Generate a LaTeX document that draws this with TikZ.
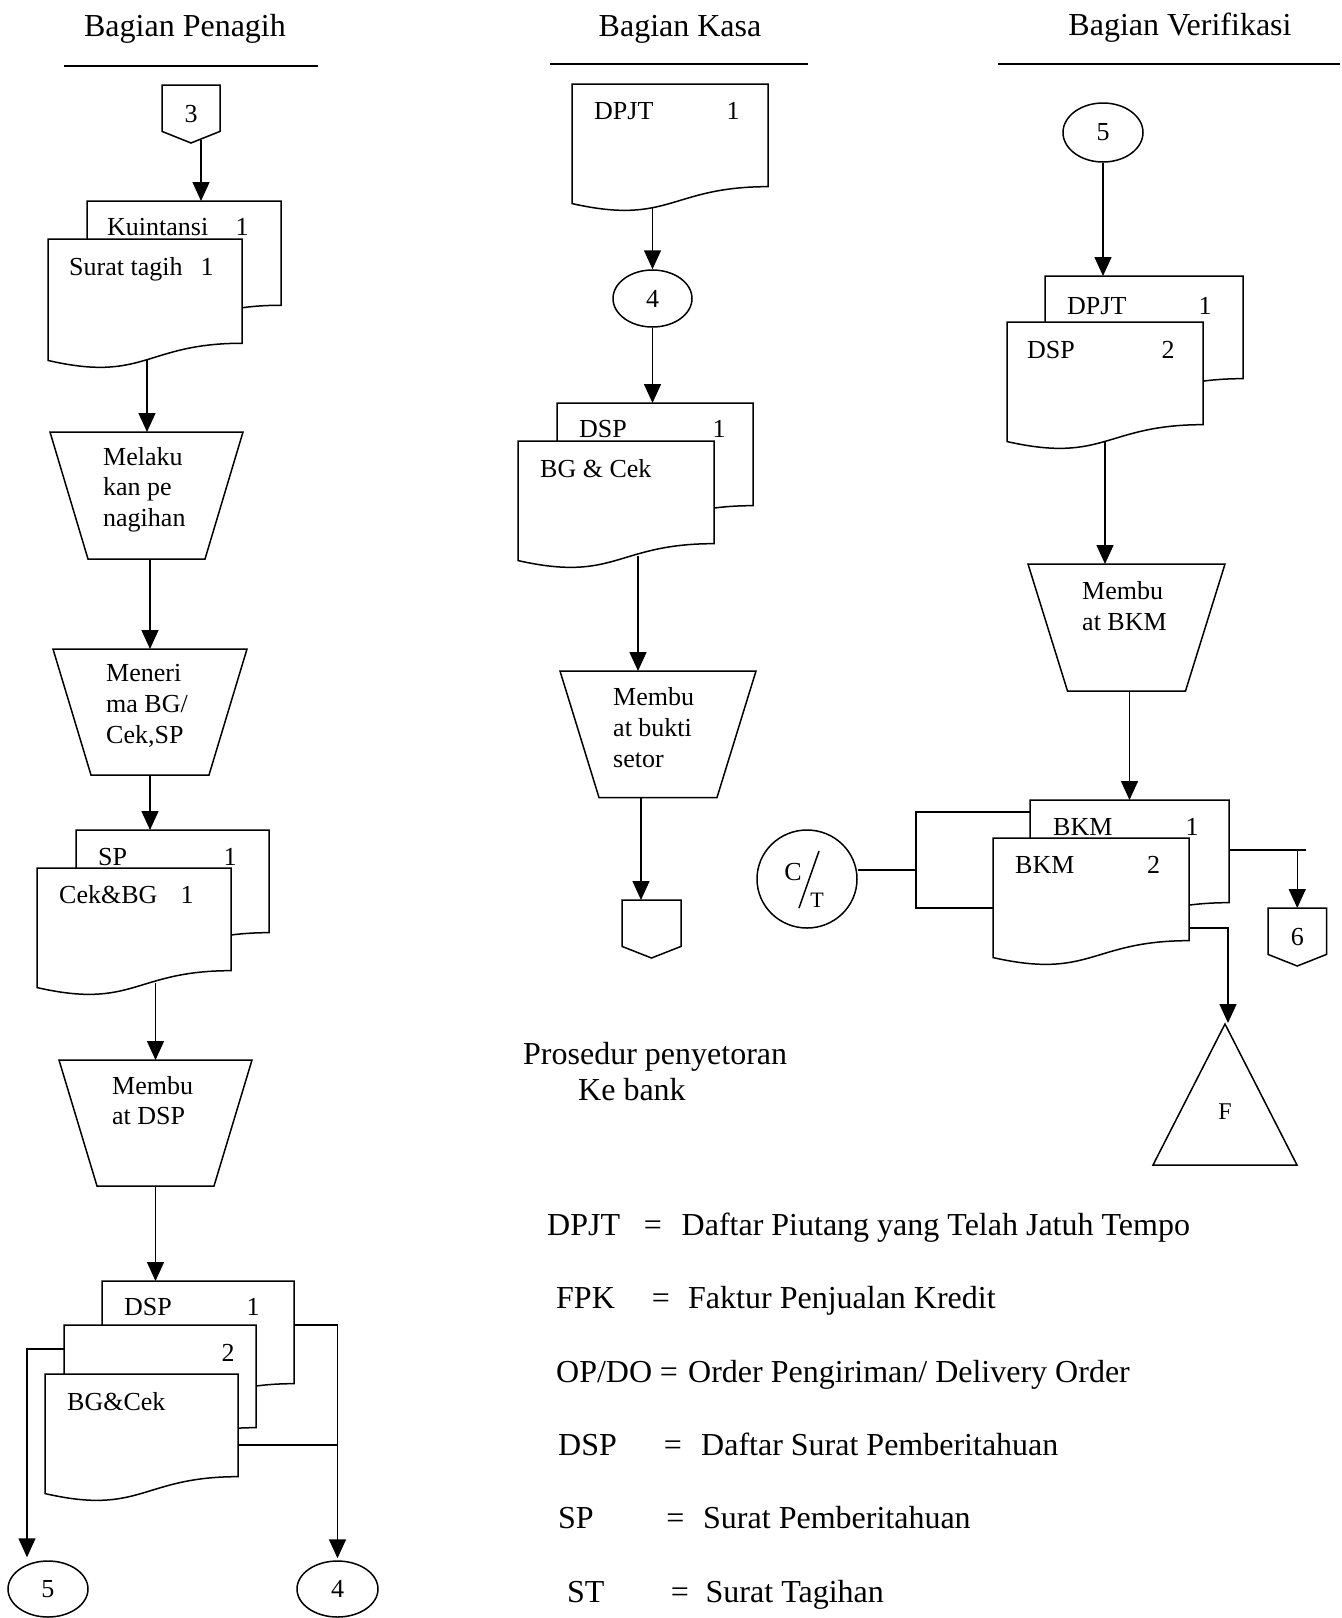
\documentclass[tikz,border=0pt]{standalone}
\usepackage{fontspec}
\setmainfont{Liberation Serif}
\usetikzlibrary{arrows.meta,calc,shapes.geometric,backgrounds}

\newcommand\boxfont{\fontsize{26}{31}\selectfont}
\newcommand\bigfont{\fontsize{32}{38}\selectfont}

\tikzset{
  ln/.style={line width=1.5pt},
  arr/.style={ln,-{Triangle[width=17pt,length=19pt]}},
  sheet/.style={ln,fill=white,line join=miter},
  hole/.style={inner sep=0pt,outer sep=0pt},
  lbl/.style={font=\boxfont,inner sep=0pt,anchor=base west},
  num/.style={font=\boxfont,inner sep=0pt,anchor=base},
  head/.style={font=\bigfont,inner sep=0pt,anchor=base},
  leg/.style={font=\bigfont,inner sep=0pt,anchor=base west},
  legeq/.style={font=\bigfont,inner sep=0pt,anchor=base},
  conn/.style={ln,draw,ellipse,inner sep=0pt,font=\boxfont},
}

% document symbol: name, left, top, width, height
\newcommand\docsheet[5]{%
  \pgfmathsetmacro\sdR{#2+#4}%
  \pgfmathsetmacro\sdM{#2+#4/2}%
  \pgfmathsetmacro\sdA{#3+0.802*#5}%
  \pgfmathsetmacro\sdB{#3+1.107*#5}%
  \pgfmathsetmacro\sdC{#3+0.934*#5}%
  \filldraw[sheet] (#2,#3) -- (\sdR,#3) -- (\sdR,\sdA)
     .. controls (\sdM,\sdA) and (\sdM,\sdB) .. (#2,\sdC) -- cycle;
  \node[hole,anchor=north west,minimum width=#4pt,minimum height={0.9*#5pt}] (#1) at (#2,#3) {};
}

% manual operation: name, centre x, top, top width, bottom width, height
\newcommand\procbox[6]{%
  \pgfmathsetmacro\trA{#2-#4/2}%
  \pgfmathsetmacro\trB{#2+#4/2}%
  \pgfmathsetmacro\trC{#2+#5/2}%
  \pgfmathsetmacro\trD{#2-#5/2}%
  \pgfmathsetmacro\trE{#3+#6}%
  \filldraw[sheet] (\trA,#3) -- (\trB,#3) -- (\trC,\trE) -- (\trD,\trE) -- cycle;
  \node[hole,anchor=north,minimum width=#4pt,minimum height=#6pt] (#1) at (#2,#3) {};
}

% off-page connector: name, left, top, width, depth, label
\newcommand\offpage[6]{%
  \pgfmathsetmacro\opR{#2+#4}%
  \pgfmathsetmacro\opM{#2+#4/2}%
  \pgfmathsetmacro\opS{#3+0.8*#5}%
  \pgfmathsetmacro\opB{#3+#5}%
  \pgfmathsetmacro\opC{#3+#5/2}%
  \filldraw[sheet] (#2,#3) -- (\opR,#3) -- (\opR,\opS) -- (\opM,\opB) -- (#2,\opS) -- cycle;
  \node[hole,minimum width=#4pt,minimum height=#5pt,font=\boxfont] (#1) at (\opM,\opC) {#6};
}

\begin{document}
\begin{tikzpicture}[x=1pt,y=-1pt]
\useasboundingbox (0,0) rectangle (1342,1618);

% ---------------- column headers
\node[head] (hPen) at (185,36) {Bagian Penagih};
\node[head] (hKas) at (680,36) {Bagian Kasa};
\node[head] (hVer) at (1180,35) {Bagian Verifikasi};
\draw[ln] (64,66) -- (318,66);
\draw[ln] (550,64) -- (808,64);
\draw[ln] (998,64) -- (1340,64);

% ---------------- Bagian Penagih
\offpage{c3}{162}{85}{58}{58}{3}
\docsheet{kw}{87}{201}{194}{130}
\node[lbl] (kwt) at (107,235) {Kuintansi};
\node[num] (kwn) at (242,235) {1};
\docsheet{st}{48}{239}{194}{130}
\node[lbl] (stt) at (69,275) {Surat tagih};
\node[num] (stn) at (207,275) {1};

\procbox{t1}{146.5}{432}{193}{117}{127}
\foreach \s [count=\i from 0] in {Melaku,kan pe,nagihan}
  \node[lbl] (t1l\i) at (103,{465+30.5*\i}) {\s};

\procbox{t2}{150}{649}{194}{118}{126}
\foreach \s [count=\i from 0] in {Meneri,ma BG/,{Cek,SP}}
  \node[lbl] (t2l\i) at (106,{681.5+31*\i}) {\s};

\docsheet{sp}{76}{830}{193}{128}
\node[lbl] (spt) at (98,865) {SP};
\node[num] (spn) at (230,865) {1};
\docsheet{cb}{37}{868}{194}{128}
\node[lbl] (cbt) at (59,903) {Cek\&BG};
\node[num] (cbn) at (187,903) {1};

\procbox{t3}{155.5}{1060}{193}{117}{126}
\foreach \s [count=\i from 0] in {Membu,at DSP}
  \node[lbl] (t3l\i) at (112,{1094+30*\i}) {\s};

\docsheet{da}{102}{1281}{192}{128}
\node[lbl] (dat) at (124,1315) {DSP};
\node[num] (dan) at (253,1315) {1};
\docsheet{db}{64}{1325}{192}{128}
\node[num] (dbn) at (228,1361) {2};
\docsheet{dc}{45}{1374}{193}{128}
\node[lbl] (dct) at (67,1410) {BG\&Cek};

\node[conn,minimum width=80pt,minimum height=56pt] (e5a) at (48,1589) {5};
\node[conn,minimum width=81pt,minimum height=56pt] (e4a) at (337.5,1589) {4};

% ---------------- Bagian Kasa
\docsheet{kd}{572}{84}{196}{128}
\node[lbl] (kdt) at (594,119) {DPJT};
\node[num] (kdn) at (733,119) {1};
\node[conn,minimum width=79pt,minimum height=57pt] (e4b) at (652.5,298.5) {4};
\docsheet{ke}{557}{403}{196}{128}
\node[lbl] (ket) at (579,437.5) {DSP};
\node[num] (ken) at (719,437.5) {1};
\docsheet{kf}{518}{441}{196}{128}
\node[lbl] (kft) at (540,477) {BG \& Cek};

\procbox{t4}{658}{671}{196}{118}{126.5}
\foreach \s [count=\i from 0] in {Membu,at bukti,setor}
  \node[lbl] (t4l\i) at (613,{705+31*\i}) {\s};
\offpage{ck}{622}{900}{59}{58}{}

\node[leg] (pr1) at (523,1064) {Prosedur penyetoran};
\node[leg] (pr2) at (578,1100) {Ke bank};

% ---------------- Bagian Verifikasi
\node[conn,minimum width=80pt,minimum height=59pt] (e5b) at (1103,132.5) {5};
\docsheet{vd}{1045}{276}{198}{128}
\node[lbl] (vdt) at (1067,314) {DPJT};
\node[num] (vdn) at (1205,314) {1};
\docsheet{ve}{1007}{322}{196}{128}
\node[lbl] (vet) at (1027,358) {DSP};
\node[num] (ven) at (1168,358) {2};

\procbox{t5}{1126.5}{564}{197}{118}{127}
\foreach \s [count=\i from 0] in {Membu,at BKM}
  \node[lbl] (t5l\i) at (1082,{599+31*\i}) {\s};

\docsheet{vf}{1030}{800}{199}{128}
\node[lbl] (vft) at (1053,835) {BKM};
\node[num] (vfn) at (1192,835) {1};
\docsheet{vg}{993}{838}{196}{128}
\node[lbl] (vgt) at (1015,873) {BKM};
\node[num] (vgn) at (1153.5,873) {2};

\node[ln,draw,ellipse,inner sep=0pt,minimum width=100pt,minimum height=98pt] (ct) at (807,879) {};
\node[font=\boxfont,inner sep=0pt] (ctC) at ($(ct)+(-14,-7)$) {C};
\node[font=\fontsize{22}{26}\selectfont,inner sep=0pt] (ctT) at ($(ct)+(10,21)$) {T};
\draw[ln] ($(ct)+(-8,29)$) -- ($(ct)+(12,-28)$);

\offpage{c6}{1268}{908}{58.5}{58}{6}

\draw[ln,line join=miter] (1225,1024) -- (1297,1165) -- (1153,1165) -- cycle;
\node[hole,anchor=north,minimum width=144pt,minimum height=141pt] (tri) at (1225,1024) {};
\node[font=\fontsize{24}{28}\selectfont,inner sep=0pt] (triF) at (1225,1112) {F};

% ---------------- abbreviations
\node[leg] (g1a) at (547,1235) {DPJT};
\node[legeq] (g1e) at (653,1235) {=};
\node[leg] (g1b) at (681.5,1235) {Daftar Piutang yang Telah Jatuh Tempo};
\node[leg] (g2a) at (556,1308) {FPK};
\node[legeq] (g2e) at (661,1308) {=};
\node[leg] (g2b) at (688,1308) {Faktur Penjualan Kredit};
\node[leg] (g3a) at (556,1382) {OP/DO};
\node[legeq] (g3e) at (669,1382) {=};
\node[leg] (g3b) at (688,1382) {Order Pengiriman/ Delivery Order};
\node[leg] (g4a) at (558,1455) {DSP};
\node[legeq] (g4e) at (673,1455) {=};
\node[leg] (g4b) at (701,1455) {Daftar Surat Pemberitahuan};
\node[leg] (g5a) at (558,1528) {SP};
\node[legeq] (g5e) at (675.5,1528) {=};
\node[leg] (g5b) at (703,1528) {Surat Pemberitahuan};
\node[leg] (g6a) at (567,1602) {ST};
\node[legeq] (g6e) at (680,1602) {=};
\node[leg] (g6b) at (705.5,1602) {Surat Tagihan};

% ---------------- flow lines (behind the symbols)
\begin{pgfonlayer}{background}
\fill[white] (0,0) rectangle (1342,1618);

% Penagih
\coordinate (a1) at ($(c3.south)+(10,-3)$);
\draw[arr] (a1) -- (a1 |- kw.north);
\coordinate (a2) at ($(st.south)+(2,0)$);
\draw[arr] (a2) -- (a2 |- t1.north);
\draw[arr] (t1.south -| t2.north) -- (t2.north);
\draw[arr] (t2.south) -- (t2.south |- sp.north);
\draw[arr] (cb.south -| t3.north) -- (t3.north);
\draw[arr] (t3.south) -- (t3.south |- da.north);
\coordinate (l5) at ($(db.north west)+(0,24)$);
\coordinate (l5e) at ($(e5a.north)+(-21,-3)$);
\draw[arr] (l5) -| (l5e);
\coordinate (r4) at ($(da.north east)+(0,44)$);
\coordinate (r4e) at ($(e4a.north)+(0,-2)$);
\draw[arr] (r4) -| (r4e);
\coordinate (r4b) at ($(dc.north east)+(0,71)$);
\draw[ln] (r4b) -- (r4b -| r4e);

% Kasa
\draw[arr] (kd.south -| e4b.north) -- (e4b.north);
\draw[arr] (e4b.south) -- (e4b.south |- ke.north);
\coordinate (k1) at ($(t4.north)+(-20,0)$);
\draw[arr] (k1 |- kf.south) -- (k1);
\coordinate (k2) at ($(t4.south)+(-17,0)$);
\draw[arr] (k2) -- (k2 |- ck.north);

% Verifikasi
\draw[arr] (e5b.south) -- (e5b.south |- vd.north);
\draw[arr] (ve.south) -- (ve.south |- t5.north);
\draw[arr] (t5.south -| vf.north) -- (vf.north);
\coordinate (bx) at ($(ct.east)+(58,-9)$);
\draw[ln] ($(ct.east)+(0,-9)$) -- (bx);
\coordinate (bt) at ($(vf.north west)+(0,12)$);
\coordinate (bb) at ($(vg.north west)+(0,70)$);
\draw[ln] (bt) -| (bx) |- (bb);
\coordinate (r6) at ($(vf.north east)+(0,50)$);
\draw[ln] (r6) -- ++(77,0);
\draw[arr] (r6 -| c6.north) -- (c6.north);
\coordinate (rf) at ($(vg.north east)+(0,90)$);
\draw[arr] (rf) -| ($(tri.north)+(3,-1)$);
\end{pgfonlayer}
\end{tikzpicture}
\end{document}
